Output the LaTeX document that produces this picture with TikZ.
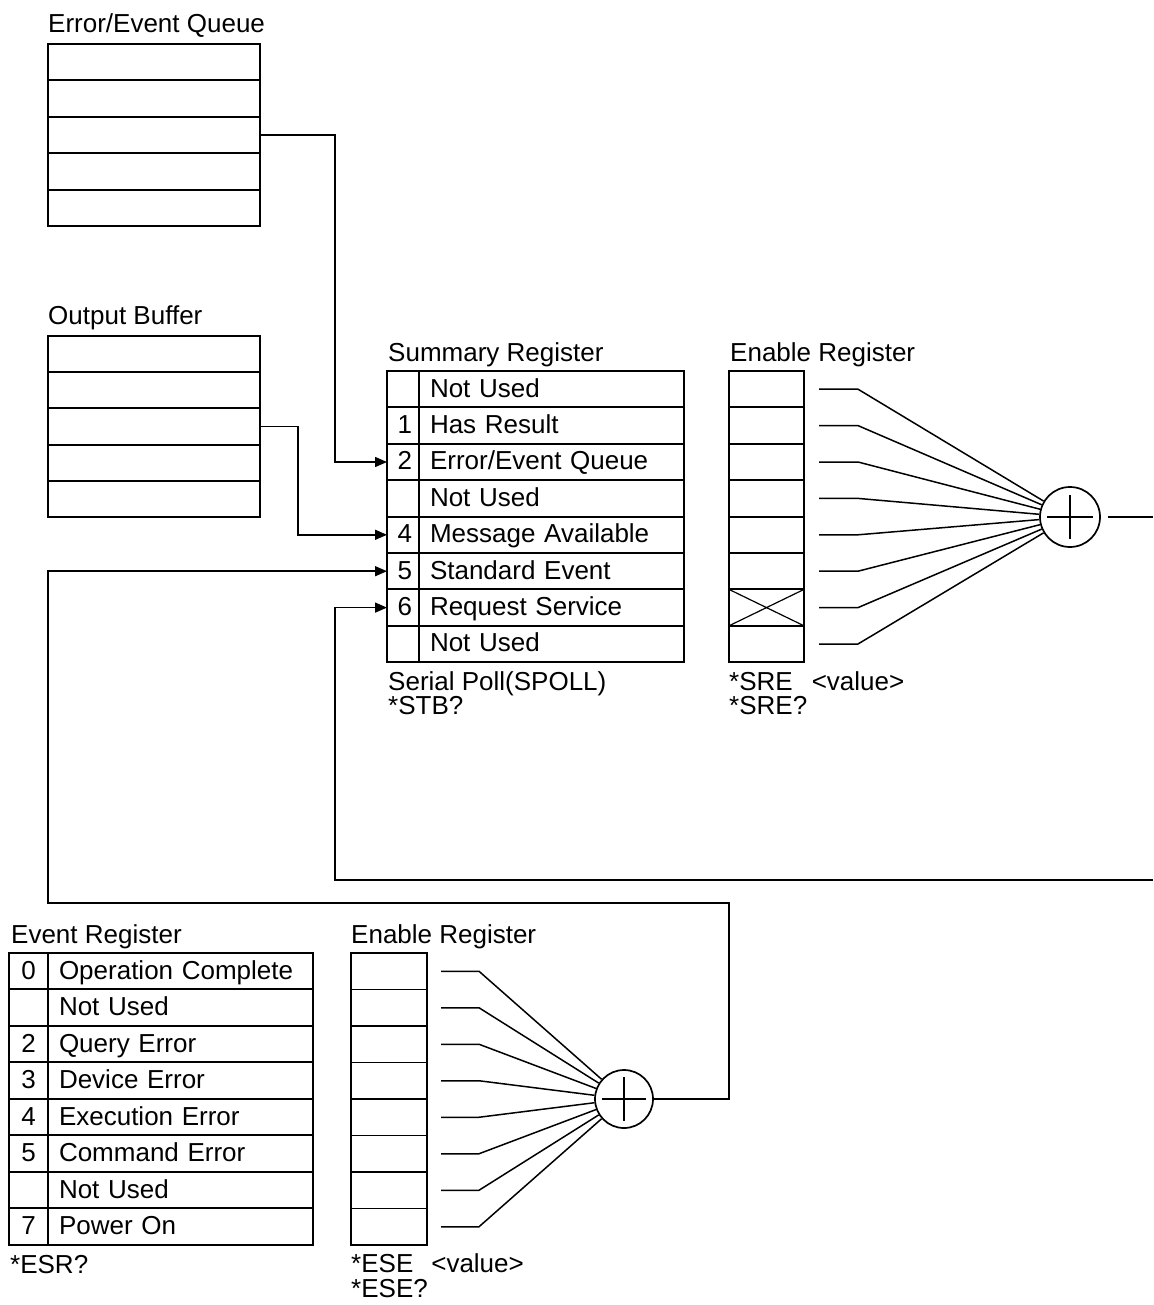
\documentclass[tikz,border=0pt]{standalone}
\usepackage{fontspec}
\setmainfont{Liberation Sans}
\usetikzlibrary{arrows.meta,calc}
\begin{document}
\begin{tikzpicture}[x=1pt,y=-1pt,
  every node/.style={font=\fontsize{26pt}{30pt}\selectfont},
  cell/.style={draw, line width=1.9pt, minimum height=36.4pt, inner sep=0pt, outer sep=0pt, anchor=north west, text height=19pt, text depth=3.4pt},
  txtcell/.style={cell, minimum width=265pt, text width=243pt, inner xsep=11pt, align=left},
  numcell/.style={cell, minimum width=32pt, text width=18pt, inner xsep=7pt, align=right},
  enumcell/.style={cell, minimum width=39pt, text width=39pt, align=center},
  lbl/.style={anchor=base west, inner sep=0pt},
  conn/.style={line width=1.5pt},
  arr/.style={conn, -{Triangle[length=12pt,width=10pt]}},
  orgate/.style={draw, circle, line width=1.7pt, inner sep=0pt},
]
\useasboundingbox (0,0) rectangle (1153,1305);

% ---------- Error/Event Queue ----------
\node[lbl] (lq) at (48,33) {Error/Event Queue};
\foreach \i in {0,...,4}
  \node[cell, minimum width=212pt] (q\i) at (48,{44+36.4*\i}) {};

% ---------- Output Buffer ----------
\node[lbl] (lb) at (48,324) {Output Buffer};
\foreach \i in {0,...,4}
  \node[cell, minimum width=212pt, minimum height=36.2pt] (b\i) at (48,{336+36.2*\i}) {};

% ---------- Summary Register ----------
\node[lbl] (ls) at (388,361) {Summary Register};
\node[numcell] (s0n) at (387,371)   {};
\node[txtcell] (s0t) at (419,371)   {Not Used};
\node[numcell] (s1n) at (387,407.4) {1};
\node[txtcell] (s1t) at (419,407.4) {Has Result};
\node[numcell] (s2n) at (387,443.8) {2};
\node[txtcell] (s2t) at (419,443.8) {Error/Event Queue};
\node[numcell] (s3n) at (387,480.2) {};
\node[txtcell] (s3t) at (419,480.2) {Not Used};
\node[numcell] (s4n) at (387,516.6) {4};
\node[txtcell] (s4t) at (419,516.6) {Message Available};
\node[numcell] (s5n) at (387,553)   {5};
\node[txtcell] (s5t) at (419,553)   {Standard Event};
\node[numcell] (s6n) at (387,589.4) {6};
\node[txtcell] (s6t) at (419,589.4) {Request Service};
\node[numcell] (s7n) at (387,625.8) {};
\node[txtcell] (s7t) at (419,625.8) {Not Used};
\node[lbl] (ls1) at (388,690) {Serial Poll(SPOLL)};
\node[lbl] (ls2) at (388,714) {*STB?};

% ---------- Service Request Enable Register ----------
\node[lbl] (le) at (730,361) {Enable Register};
\foreach \i in {0,...,7}
  \node[cell, minimum width=75pt] (e\i) at (729,{371+36.4*\i}) {};
\draw[line width=1.2pt] (e6.north west) -- (e6.south east) (e6.south west) -- (e6.north east);
\node[lbl] (le1) at (729,690) {*SRE\hspace{19pt}<value>};
\node[lbl] (le2) at (729,714) {*SRE?};

\node[orgate, minimum size=60pt] (sumc) at (1070,517) {};
\draw[line width=1.7pt] ($(sumc.center)+(-23,0)$) -- ($(sumc.center)+(23,0)$)
                        ($(sumc.center)+(0,-22)$) -- ($(sumc.center)+(0,22)$);
\foreach \i in {0,...,7} {
  \coordinate (fs\i) at (819,{389.2+36.4*\i});
  \draw[conn] (fs\i) -- ++(39,0) -- (sumc);
}
\coordinate (sout) at (1153,517);
\draw[conn] ([xshift=7pt]sumc.east) -- (sout);

% ---------- Event Register ----------
\node[lbl] (lev) at (11,943) {Event Register};
\node[enumcell] (v0n) at (9,953)    {0};
\node[txtcell]  (v0t) at (48,953)   {Operation Complete};
\node[enumcell] (v1n) at (9,989.5)  {};
\node[txtcell]  (v1t) at (48,989.5) {Not Used};
\node[enumcell] (v2n) at (9,1026)   {2};
\node[txtcell]  (v2t) at (48,1026)  {Query Error};
\node[enumcell] (v3n) at (9,1062.5) {3};
\node[txtcell]  (v3t) at (48,1062.5){Device Error};
\node[enumcell] (v4n) at (9,1099)   {4};
\node[txtcell]  (v4t) at (48,1099)  {Execution Error};
\node[enumcell] (v5n) at (9,1135.5) {5};
\node[txtcell]  (v5t) at (48,1135.5){Command Error};
\node[enumcell] (v6n) at (9,1172)   {};
\node[txtcell]  (v6t) at (48,1172)  {Not Used};
\node[enumcell] (v7n) at (9,1208.5) {7};
\node[txtcell]  (v7t) at (48,1208.5){Power On};
\node[lbl] (lev1) at (10,1273) {*ESR?};

% ---------- Event Status Enable Register ----------
\node[lbl] (lee) at (351,943) {Enable Register};
\foreach \i in {0,...,7}
  \node[cell, minimum width=76pt, minimum height=36.5pt] (f\i) at (351,{953+36.5*\i}) {};
\node[lbl] (lee1) at (351,1272) {*ESE\hspace{18pt}<value>};
\node[lbl] (lee2) at (351,1297) {*ESE?};

\node[orgate, minimum size=58pt] (esec) at (624,1099) {};
\draw[line width=1.7pt] ($(esec.center)+(-22,0)$) -- ($(esec.center)+(22,0)$)
                        ($(esec.center)+(0,-22)$) -- ($(esec.center)+(0,22)$);
\foreach \i in {0,...,7} {
  \coordinate (gs\i) at (441,{971.25+36.5*\i});
  \draw[conn] (gs\i) -- ++(38,0) -- (esec);
}

% ---------- Connectors into the Summary Register ----------
\draw[arr] (q2.east) -- ++(75,0) |- (s2n.west);
\draw[arr] (b2.east) -- ++(38,0) |- (s4n.west);
\draw[arr] (esec.east) -| (729,903) -| (48,571.2) -- (s5n.west);
\coordinate (rin) at (1153,880);
\draw[arr] (rin) -- (335,880) |- (s6n.west);

\end{tikzpicture}
\end{document}
